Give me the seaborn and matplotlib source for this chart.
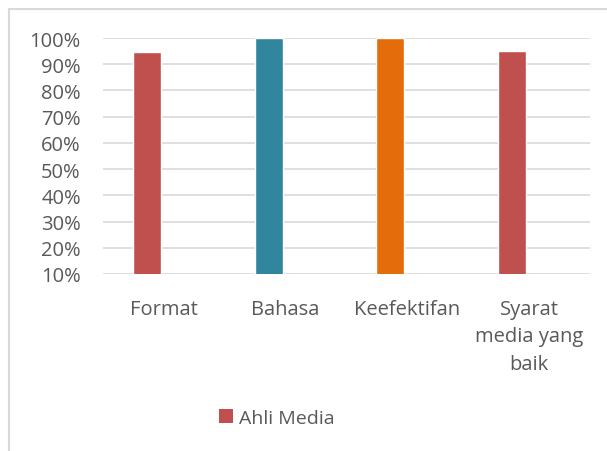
import matplotlib
matplotlib.use("Agg")
import matplotlib.pyplot as plt
import seaborn as sns
import pandas as pd
from matplotlib.patches import Patch, Rectangle
from matplotlib.ticker import PercentFormatter

# Data
categories = ["Format", "Bahasa", "Keefektifan", "Syarat\nmedia yang\nbaik"]
values = [0.945, 1.00, 1.00, 0.95]
bar_colors = ["#C0504D", "#31859C", "#E46C0A", "#C0504D"]
series_name = "Ahli Media"
y_ticks = [0.1, 0.2, 0.3, 0.4, 0.5, 0.6, 0.7, 0.8, 0.9, 1.0]

sns.set_theme(style="white")
plt.rcParams["font.family"] = ["Open Sans", "DejaVu Sans"]
text_color = "#595959"
grid_color = "#D9D9D9"

df = pd.DataFrame({"Kategori": categories, "Nilai": values})

fig = plt.figure(figsize=(6.07, 4.52), dpi=100)
ax = fig.add_axes([0.1697, 0.3916, 0.8023, 0.5221])

sns.barplot(data=df, x="Kategori", y="Nilai", hue="Kategori",
            palette=bar_colors, saturation=1, width=0.23, legend=False,
            ax=ax, zorder=3)

# Excel-style layout: the bars sit a little left of the category centre
for p in ax.patches:
    p.set_x(p.get_x() - 0.14)

ax.set_ylim(0.1, 1.0)
ax.set_yticks(y_ticks)
ax.yaxis.set_major_formatter(PercentFormatter(1.0, decimals=0))
ax.set_xlim(-0.5, len(categories) - 0.5)
ax.set_xlabel("")
ax.set_ylabel("")

for y in y_ticks:
    ax.axhline(y, color=grid_color, linewidth=1.2, zorder=1)

for side in ["left", "right", "top", "bottom"]:
    ax.spines[side].set_visible(False)

ax.tick_params(axis="y", length=0, pad=16, labelsize=14.5, labelcolor=text_color)
ax.tick_params(axis="x", length=0, pad=18, labelsize=14.5, labelcolor=text_color)
for lbl in ax.get_xticklabels():
    lbl.set_linespacing(1.5)
    lbl.set_verticalalignment("top")

# chart frame (extends past the right and bottom edges, as in the reference)
fig.patches.append(Rectangle((9 / 607, -0.1), 1.2, 1 - 10 / 452 + 0.1,
                             transform=fig.transFigure, fill=False,
                             edgecolor=grid_color, linewidth=1.5))

handle = Patch(facecolor=bar_colors[0], edgecolor="none", label=series_name)
fig.legend(handles=[handle], loc="center", bbox_to_anchor=(277 / 607, 1 - 419 / 452),
           frameon=False, fontsize=14, labelcolor=text_color,
           handlelength=0.7, handleheight=0.7, handletextpad=0.3)

fig.savefig("out.png", dpi=100)
